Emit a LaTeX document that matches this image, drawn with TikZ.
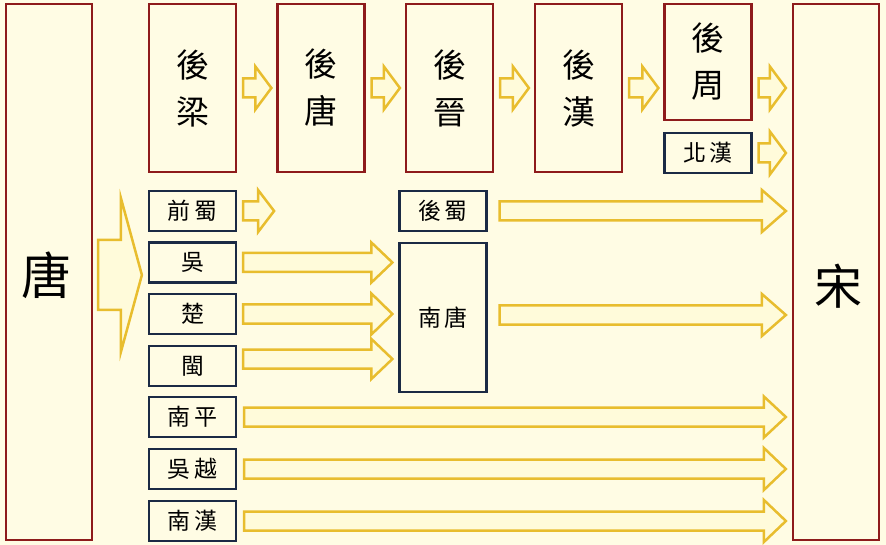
\documentclass[tikz,border=0pt]{standalone}
\usepackage{fontspec}
\newfontfamily\cjk{Noto Sans CJK TC}
\usetikzlibrary{calc}
\definecolor{bgc}{HTML}{FFFCE4}
\definecolor{arrc}{HTML}{E8BD2E}
\definecolor{arrfill}{HTML}{FFFBDA}
\definecolor{redc}{HTML}{8E1B1B}
\definecolor{navyc}{HTML}{1B2A45}
\tikzset{
  dyn/.style={draw=redc, line width=2.2pt, fill=bgc, inner sep=0pt, align=center, font=\cjk\fontsize{33}{47}\selectfont},
  big/.style={draw=redc, line width=2.2pt, fill=bgc, inner sep=0pt, minimum width=86pt, minimum height=536pt, font=\cjk\fontsize{50}{60}\selectfont},
  king/.style={draw=navyc, line width=2.2pt, fill=bgc, inner sep=0pt, minimum width=87pt, minimum height=40pt, font=\cjk\fontsize{23}{26}\selectfont},
  blockarr/.style={draw=arrc, fill=arrfill, line width=2.5pt, line join=miter}
}
\newcommand\blockarrow[5]{%
  \draw[blockarr] let \p1=#1, \p2=#2 in
   (\x1,{\y1+#3}) -- ({\x2-#5},{\y1+#3}) -- ({\x2-#5},{\y1+#4}) -- (\x2,\y1)
   -- ({\x2-#5},{\y1-#4}) -- ({\x2-#5},{\y1-#3}) -- (\x1,{\y1-#3}) -- cycle;}
\begin{document}
\begin{tikzpicture}[x=1pt,y=-1pt]
\useasboundingbox[fill=bgc] (0,0) rectangle (886,545);
% big boxes
\node[big] (tang) at (49,272) {};
\node[font=\cjk\fontsize{50}{60}\selectfont] (tangt) at (46,275) {唐};
\node[big] (song) at (836,272) {};
\node[font=\cjk\fontsize{48}{60}\selectfont] (songt) at (838,286) {宋};
% five dynasties
\node[dyn, minimum width=87pt, minimum height=168pt] (liang) at (192.5,88) {後\\梁};
\node[dyn, minimum width=87pt, minimum height=168pt] (tang2) at (321,88) {後\\唐};
\node[dyn, minimum width=87pt, minimum height=168pt] (jin) at (449.5,88) {後\\晉};
\node[dyn, minimum width=87pt, minimum height=168pt] (han) at (578.5,88) {後\\漢};
\node[dyn, minimum width=87pt, minimum height=116pt] (zhou) at (708,62) {後\\周};
\node[king] (beihan) at (708,153) {北\hspace{4pt}漢};
% ten kingdoms
\node[king] (qianshu) at (192.5,211) {前\hspace{4pt}蜀};
\node[king] (wu) at (192.5,262.5) {吳};
\node[king] (chu) at (192.5,314) {楚};
\node[king] (min) at (192.5,366) {閩};
\node[king] (nanping) at (192.5,417) {南\hspace{4pt}平};
\node[king] (wuyue) at (192.5,469) {吳\hspace{4pt}越};
\node[king] (nanhan) at (192.5,521) {南\hspace{4pt}漢};
\node[king] (houshu) at (443,211) {後\hspace{4pt}蜀};
\node[king, minimum height=149pt] (nantang) at (443,317.5) {南\hspace{4pt}唐};
% arrows
\blockarrow{($(tang.east)+(5,3)$)}{($(qianshu.west |- tang.east)+(-6,3)$)}{35pt}{77pt}{21pt}
\blockarrow{($(liang.east)+(6,0)$)}{($(tang2.west)+(-5,0)$)}{9.5pt}{21.5pt}{16pt}
\blockarrow{($(tang2.east)+(6,0)$)}{($(jin.west)+(-5,0)$)}{9.5pt}{21.5pt}{16pt}
\blockarrow{($(jin.east)+(6,0)$)}{($(han.west)+(-5,0)$)}{9.5pt}{21.5pt}{16pt}
\blockarrow{($(han.east)+(6,0)$)}{($(zhou.west |- han.east)+(-5,0)$)}{9.5pt}{21.5pt}{16pt}
\blockarrow{($(zhou.east |- han.east)+(6,0)$)}{($(song.west |- han.east)+(-6,0)$)}{9.5pt}{21.5pt}{16pt}
\blockarrow{($(beihan.east)+(6,0)$)}{($(song.west |- beihan.east)+(-6,0)$)}{9.5pt}{21.5pt}{16pt}
\blockarrow{($(qianshu.east)+(6,0)$)}{($(qianshu.east)+(37,0)$)}{9.5pt}{21pt}{16pt}
\blockarrow{($(wu.east)+(6,0)$)}{($(nantang.west |- wu.east)+(-6,0)$)}{9.5pt}{20pt}{21pt}
\blockarrow{($(chu.east)+(6,0)$)}{($(nantang.west |- chu.east)+(-6,0)$)}{9.5pt}{20.5pt}{21pt}
\blockarrow{($(min.east)+(6,-7)$)}{($(nantang.west |- min.east)+(-6,-7)$)}{9.5pt}{20pt}{21pt}
\blockarrow{($(houshu.east)+(12,0)$)}{($(song.west |- houshu.east)+(-6,0)$)}{9.5pt}{21pt}{24pt}
\blockarrow{($(nantang.east)+(12,-2.5)$)}{($(song.west |- nantang.east)+(-6,-2.5)$)}{9.5pt}{21pt}{24pt}
\blockarrow{($(nanping.east)+(7,0)$)}{($(song.west |- nanping.east)+(-6,0)$)}{9.5pt}{20.5pt}{22pt}
\blockarrow{($(wuyue.east)+(7,0)$)}{($(song.west |- wuyue.east)+(-6,0)$)}{9.5pt}{21pt}{22pt}
\blockarrow{($(nanhan.east)+(7,0)$)}{($(song.west |- nanhan.east)+(-6,0)$)}{9.5pt}{21pt}{22pt}
\end{tikzpicture}
\end{document}
